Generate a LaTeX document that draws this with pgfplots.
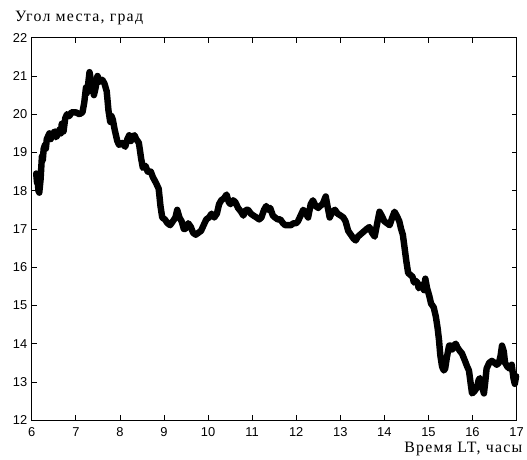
\documentclass[border=0pt]{standalone}
\usepackage{pgfplots}
\pgfplotsset{compat=1.18}
\usepackage{fontspec}
\setmainfont{Liberation Serif}
\newfontfamily\tickfont{Liberation Sans}

\pgfplotstableread{
h v
6.10 18.45
6.12 18.20
6.13 18.35
6.15 18.00
6.17 17.95
6.20 18.30
6.23 18.90
6.25 18.80
6.27 19.10
6.30 19.20
6.32 19.10
6.34 19.35
6.40 19.50
6.43 19.35
6.45 19.45
6.52 19.55
6.55 19.40
6.58 19.45
6.63 19.60
6.66 19.50
6.68 19.75
6.72 19.55
6.76 19.90
6.80 20.00
6.85 19.95
6.90 20.05
7.00 20.05
7.08 20.00
7.15 20.05
7.19 20.30
7.23 20.70
7.25 20.55
7.27 20.70
7.31 21.10
7.35 20.85
7.38 20.70
7.41 20.50
7.45 20.70
7.49 21.00
7.55 20.85
7.60 20.90
7.65 20.80
7.70 20.60
7.74 20.10
7.78 19.80
7.81 19.95
7.84 19.85
7.88 19.60
7.94 19.30
7.98 19.20
8.05 19.25
8.12 19.15
8.17 19.35
8.21 19.45
8.25 19.30
8.28 19.40
8.33 19.45
8.37 19.35
8.43 19.25
8.48 18.85
8.52 18.60
8.58 18.65
8.63 18.50
8.70 18.50
8.75 18.35
8.82 18.20
8.88 18.05
8.92 17.60
8.96 17.30
9.02 17.25
9.08 17.15
9.14 17.10
9.20 17.20
9.26 17.30
9.30 17.50
9.35 17.30
9.40 17.20
9.45 17.00
9.49 17.00
9.55 17.15
9.61 17.05
9.66 16.90
9.72 16.85
9.78 16.90
9.84 16.95
9.90 17.10
9.96 17.25
10.02 17.30
10.08 17.40
10.14 17.30
10.20 17.40
10.25 17.65
10.30 17.75
10.36 17.80
10.42 17.90
10.47 17.70
10.51 17.65
10.57 17.75
10.62 17.70
10.68 17.55
10.75 17.45
10.80 17.35
10.86 17.50
10.91 17.50
10.97 17.40
11.03 17.35
11.10 17.30
11.16 17.25
11.21 17.30
11.27 17.50
11.32 17.60
11.37 17.50
11.41 17.55
11.47 17.35
11.52 17.30
11.58 17.25
11.64 17.25
11.70 17.15
11.75 17.10
11.81 17.10
11.88 17.10
11.94 17.15
12.00 17.15
12.04 17.20
12.10 17.35
12.16 17.50
12.20 17.45
12.27 17.30
12.33 17.65
12.38 17.75
12.44 17.60
12.50 17.55
12.54 17.60
12.60 17.65
12.67 17.85
12.71 17.60
12.76 17.30
12.82 17.45
12.88 17.50
12.94 17.40
13.01 17.35
13.07 17.30
13.12 17.20
13.18 16.95
13.24 16.85
13.30 16.75
13.35 16.70
13.40 16.80
13.45 16.85
13.50 16.90
13.55 16.95
13.60 17.00
13.66 17.05
13.72 16.90
13.78 16.80
13.83 17.10
13.89 17.45
13.94 17.35
14.00 17.20
14.06 17.15
14.12 17.10
14.18 17.30
14.23 17.45
14.28 17.35
14.34 17.20
14.38 17.00
14.42 16.85
14.46 16.50
14.50 16.15
14.54 15.85
14.59 15.80
14.64 15.75
14.67 15.60
14.70 15.65
14.75 15.60
14.78 15.45
14.81 15.50
14.86 15.55
14.90 15.40
14.93 15.70
14.97 15.45
15.02 15.25
15.06 15.05
15.12 14.95
15.17 14.70
15.21 14.40
15.24 14.10
15.27 13.70
15.31 13.40
15.35 13.30
15.38 13.35
15.42 13.65
15.47 13.95
15.51 13.95
15.54 13.85
15.58 13.95
15.62 14.00
15.66 13.90
15.72 13.80
15.76 13.75
15.83 13.55
15.88 13.40
15.92 13.30
15.96 12.95
15.99 12.70
16.04 12.75
16.10 12.85
16.14 13.05
16.17 13.10
16.21 12.90
16.26 12.70
16.29 13.00
16.32 13.35
16.38 13.50
16.44 13.55
16.50 13.50
16.55 13.45
16.60 13.50
16.64 13.70
16.67 13.95
16.71 13.80
16.74 13.50
16.79 13.40
16.84 13.35
16.89 13.45
16.93 13.10
16.96 12.95
16.99 13.15
}\elevation

\begin{document}
\begin{tikzpicture}
\begin{axis}[
  scale only axis,
  width=488bp, height=385bp,
  xmin=6, xmax=17, ymin=12, ymax=22,
  xtick={6,...,17}, ytick={12,...,22},
  tick align=inside,
  major tick length=5bp,
  axis line style={line width=0.8pt},
  every tick/.style={black, line width=0.8pt},
  ticklabel style={font=\tickfont\fontsize{13}{15}\selectfont},
  /pgf/number format/assume math mode=true,
  xticklabel style={yshift=-4bp},
  yticklabel style={xshift=-1bp},
  clip=false,
]
\addplot[black, line width=6.5pt, line join=round, line cap=round] table[x=h, y=v] {\elevation};
\end{axis}
\node[anchor=base west, inner sep=0pt, font=\fontsize{16}{18}\selectfont\addfontfeature{LetterSpace=8}] at (-17bp,401bp) {Угол места, град};
\node[anchor=base east, inner sep=0pt, font=\fontsize{16}{18}\selectfont\addfontfeature{LetterSpace=8}] at (494bp,-33bp) {Время LT, часы};
\path[use as bounding box] (-32bp,-40bp) rectangle (495bp,423bp);
\end{tikzpicture}
\end{document}
